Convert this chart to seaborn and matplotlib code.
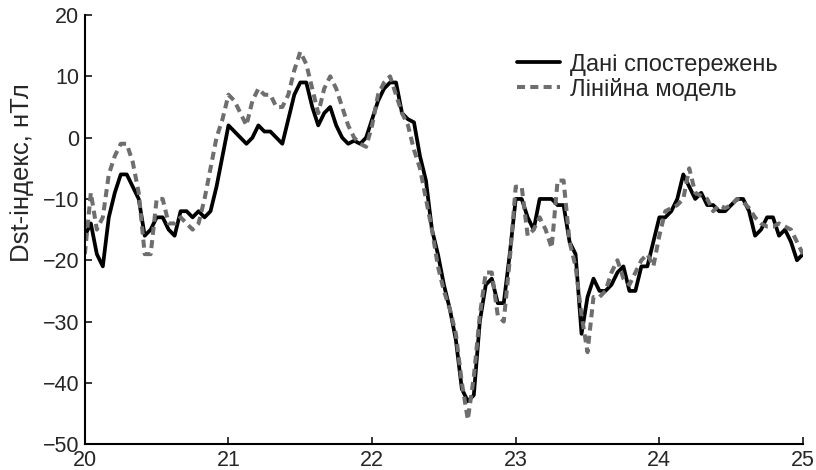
import numpy as np
import pandas as pd
import seaborn as sns
from matplotlib import pyplot as plt

# hourly values, days 20..25
hours = np.arange(121)
days = 20 + hours / 24

observed = [-16, -14, -19, -21, -13, -9, -6, -6, -8, -10,
            -16, -15, -13, -13, -15, -16, -12, -12, -13, -12,
            -13, -12, -8, -3, 2, 1, 0, -1, 0, 2,
            1, 1, 0, -1, 3, 7, 9, 9, 5, 2,
            4, 5, 2, 0, -1, -0.5, -1, 0, 3, 6,
            8, 9, 9, 4, 3, 2.5, -3, -7, -15, -19,
            -24, -28, -33, -41, -43, -42, -30, -24, -23, -27,
            -27, -19, -10, -10, -13, -15, -10, -10, -10, -11,
            -11, -17, -19, -32, -26, -23, -25, -25, -24, -22,
            -21, -25, -25, -21, -21, -17, -13, -13, -12, -10,
            -6, -8, -10, -9, -11, -11, -12, -12, -11, -10,
            -10, -12, -16, -15, -13, -13, -16, -15, -17, -20,
            -19]

model = [-19, -9, -15, -13, -6, -3, -1, -1, -4, -9,
         -19, -19, -10, -10, -14, -14, -13, -14, -15, -14,
         -10, -5, 0, 3, 7, 6, 4, 2, 6, 8,
         7, 7, 5, 5, 7, 11, 14, 12, 8, 4,
         8, 10, 8, 5, 2, 0, -1, -1.5, 2, 7,
         9, 10, 7, 4, 2, -2, -5, -10, -15, -21,
         -25, -28, -32, -40, -46, -39, -29, -22, -22, -29,
         -30, -20, -8, -8, -16, -15, -13, -15, -18, -7,
         -7, -17, -21, -29, -35, -26, -26, -25, -22, -20,
         -23, -24, -22, -20, -19, -21, -16, -12, -11.5, -11,
         -10, -5, -9, -9.5, -10, -12, -11, -11.5, -11, -10,
         -10.5, -11.5, -13, -14, -14.5, -14.5, -14, -14.5, -15, -17,
         -19]

df = pd.DataFrame({"day": days, "observed": observed, "model": model})

sns.set_style("white")
plt.rcParams["font.family"] = ["Liberation Sans", "DejaVu Sans"]

fig = plt.figure(figsize=(8.16, 4.70), dpi=100)
ax = fig.add_axes([0.104, 0.055, 0.880, 0.913])

sns.lineplot(data=df, x="day", y="observed", ax=ax, color="black",
             linewidth=2.7, label="Дані спостережень")
sns.lineplot(data=df, x="day", y="model", ax=ax, color="#6e6e6e",
             linewidth=2.9, linestyle=(0, (2.0, 1.3)), label="Лінійна модель")

ax.set_xlim(20, 25)
ax.set_ylim(-50, 20)
ax.set_xticks([20, 21, 22, 23, 24, 25])
ax.set_yticks(range(-50, 21, 10))
ax.set_xlabel("")
ax.set_ylabel("Dst-індекс, нТл", fontsize=18.5)
ax.yaxis.set_label_coords(-0.071, 0.633)
ax.tick_params(direction="in", length=5, width=1.3, labelsize=15.5,
               left=True, bottom=True, pad=4)
for s in ["top", "right"]:
    ax.spines[s].set_visible(False)
for s in ["left", "bottom"]:
    ax.spines[s].set_linewidth(1.5)
    ax.spines[s].set_color("black")

ax.legend(loc="upper left", bbox_to_anchor=(0.602, 0.91), frameon=False,
          fontsize=17, handlelength=1.8, handletextpad=0.45,
          labelspacing=0.08, borderpad=0, borderaxespad=0)

fig.savefig("out.png", dpi=100)
